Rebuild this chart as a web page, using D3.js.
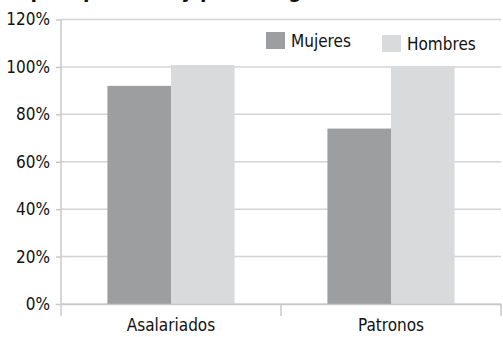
<!DOCTYPE html>
<html>
<head>
<meta charset="utf-8">
<script src="https://cdn.jsdelivr.net/npm/d3@7"></script>
<style>
  html, body { margin: 0; padding: 0; background: #fff; }
  svg { display: block; }
  text { font-family: "Liberation Sans Narrow", "DejaVu Sans Condensed", "Arial Narrow", sans-serif; fill: #111; }
</style>
</head>
<body>
<svg id="chart" width="503" height="337"></svg>
<script>
// Categories, series and values (percent)
const categories = ["Asalariados", "Patronos"];
const seriesNames = ["Mujeres", "Hombres"];
const mujeres = [92, 74];
const hombres = [100.8, 100.4];
const yTicks = [0, 20, 40, 60, 80, 100, 120];
const tickLabels = ["0%", "20%", "40%", "60%", "80%", "100%", "120%"];
const colors = ["#9d9ea0", "#d9dadb"];

const svg = d3.select("#chart");
const plotLeft = 61, plotRight = 501, plotTop = 19.5, plotBottom = 304;

const x = d3.scaleBand().domain(categories).range([plotLeft, plotRight]).padding(0);
const inner = d3.scaleBand().domain(seriesNames).range([0, x.bandwidth()])
  .paddingInner(0).paddingOuter(0.73);
const y = d3.scaleLinear().domain([0, 120]).range([plotBottom, plotTop]);

// Title, running off the top edge of the canvas
svg.append("text")
  .attr("x", -2).attr("y", -2.5)
  .attr("font-size", 21).attr("font-weight", "bold")
  .text("Empleo por sexo y por categoría");

// Gridlines
svg.append("g").selectAll("line").data(yTicks).join("line")
  .attr("x1", plotLeft).attr("x2", plotRight)
  .attr("y1", d => y(d)).attr("y2", d => y(d))
  .attr("stroke", "#d4d4d4").attr("stroke-width", 1.5);

// Y axis
const yAxis = d3.axisLeft(y).tickValues(yTicks)
  .tickFormat((d, i) => tickLabels[i]).tickSize(5).tickPadding(6);
const gy = svg.append("g").attr("transform", `translate(${plotLeft},0)`).call(yAxis);
gy.select(".domain").remove();
gy.selectAll(".tick line").attr("stroke", "#c8c8c8").attr("stroke-width", 1.5);
gy.selectAll(".tick text").attr("font-size", 17).attr("fill", "#111");
svg.append("line").attr("x1", plotLeft).attr("x2", plotLeft).attr("y1", plotTop).attr("y2", 316)
  .attr("stroke", "#c8c8c8").attr("stroke-width", 1.5);

// Bars
const rows = categories.map((c, i) => ({ cat: c, vals: [mujeres[i], hombres[i]] }));
const groups = svg.append("g").selectAll("g").data(rows).join("g")
  .attr("transform", d => `translate(${x(d.cat)},0)`);
groups.selectAll("rect").data(d => d.vals.map((v, j) => ({ name: seriesNames[j], v, j })))
  .join("rect")
  .attr("x", d => inner(d.name))
  .attr("width", inner.bandwidth())
  .attr("y", d => y(d.v))
  .attr("height", d => y(0) - y(d.v))
  .attr("fill", d => colors[d.j]);

// X axis
const xAxis = d3.axisBottom(x).tickSize(0).tickPadding(15);
const gx = svg.append("g").attr("transform", `translate(0,${plotBottom})`).call(xAxis);
gx.select(".domain").attr("stroke", "#c8c8c8").attr("stroke-width", 1.5);
gx.selectAll(".tick text").attr("font-size", 17).attr("fill", "#111");
// Category separators
svg.append("g").selectAll("line").data(categories).join("line")
  .attr("x1", d => x(d) + x.bandwidth()).attr("x2", d => x(d) + x.bandwidth())
  .attr("y1", plotBottom).attr("y2", 316)
  .attr("stroke", "#c8c8c8").attr("stroke-width", 1.5);

// Legend
const legendPos = [{ x: 266, y: 32 }, { x: 382, y: 35 }];
const lg = svg.append("g").selectAll("g").data(seriesNames).join("g")
  .attr("transform", (d, i) => `translate(${legendPos[i].x},${legendPos[i].y})`);
lg.append("rect").attr("width", 19).attr("height", 17).attr("fill", (d, i) => colors[i]);
lg.append("text").attr("x", 25).attr("y", 15).attr("font-size", 17).text(d => d);
</script>
</body>
</html>
